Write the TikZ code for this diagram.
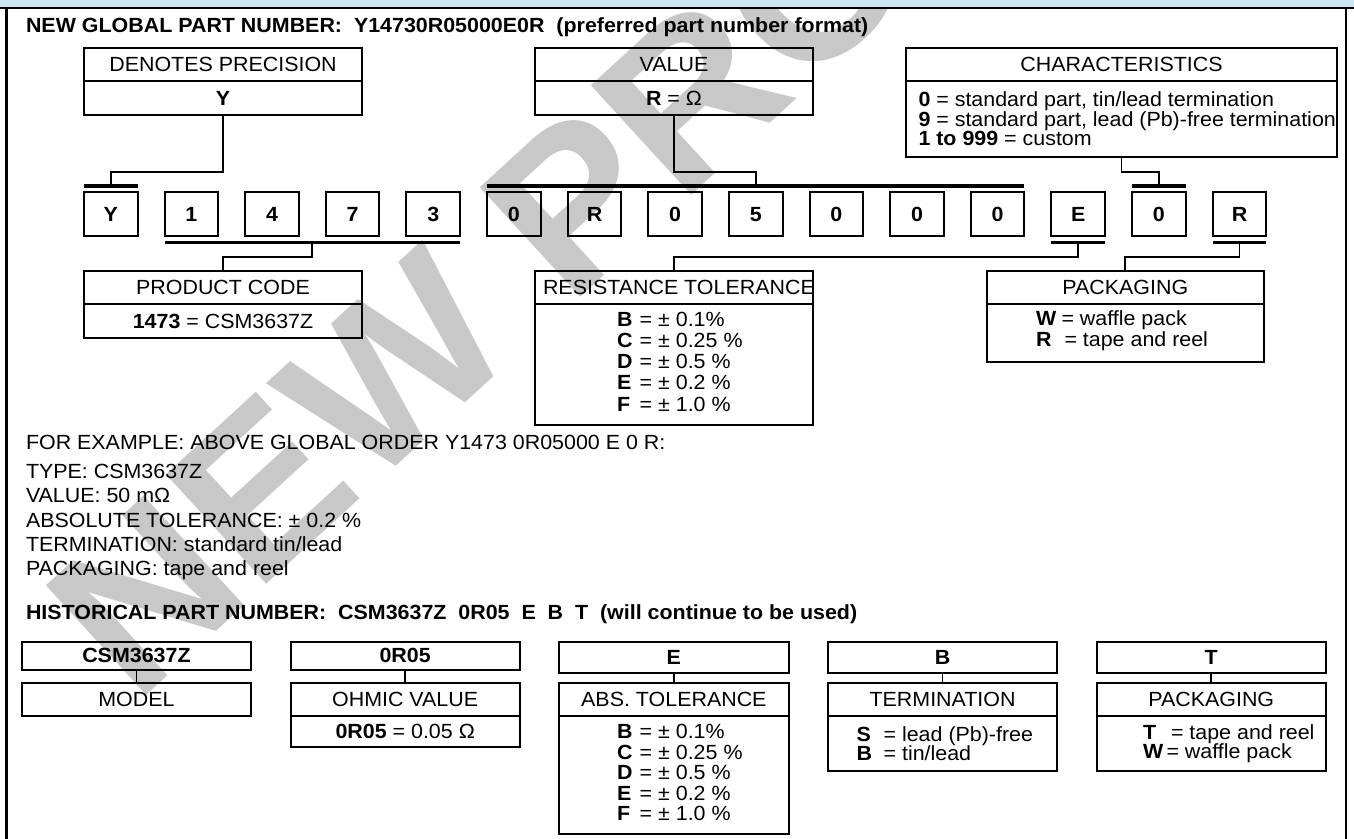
\documentclass[tikz,border=0pt]{standalone}
\usepackage{fontspec}
\setmainfont{Liberation Sans}[FakeStretch=1.045]
\usetikzlibrary{calc}
\definecolor{bandblue}{RGB}{205,229,243}
\definecolor{wmgray}{RGB}{200,200,200}
\newcommand\lettbox[2][22.7pt]{\makebox[#1][l]{\textbf{#2}}}
\begin{document}
\begin{tikzpicture}[x=1pt,y=-1pt,
  every node/.style={font=\fontsize{20.5}{24}\selectfont, inner sep=0pt, outer sep=0pt},
  cell/.style={draw, line width=2pt},
  lbl/.style={anchor=base west},
  boldtxt/.style={font=\fontsize{20.5}{24}\selectfont\bfseries},
  bar/.style={line width=3.5pt},
  conn/.style={line width=1.8pt},
  frame/.style={line width=2.2pt},
  wm/.style={font=\fontsize{216}{216}\selectfont\bfseries, text=wmgray}
]
\useasboundingbox (0,0) rectangle (1354,838);
\begin{scope}
  \clip (0,0) rectangle (1354,838);
  \node[wm, rotate=42.5, anchor=base west] (wmark) at (135,705) {NEW PRODUCT};
\end{scope}
% band and frame
\fill[bandblue] (0,0) rectangle (1354,6.8);
\draw[frame] (0,7.6) -- (1354,7.6);
\draw[frame] (6.5,7.6) -- (6.5,840);
\draw[frame] (1346,7.6) -- (1346,840);
% title
\node[lbl, boldtxt] (title) at (26,32.5) {NEW GLOBAL PART NUMBER:\ \ Y14730R05000E0R\ \ (preferred part number format)};
% top boxes
\node[cell, minimum width=277.2, minimum height=33.5] (dph) at (223,64.25) {DENOTES PRECISION};
\node[cell, minimum width=277.2, minimum height=34] (dpv) at (223,98) {\textbf{Y}};
\node[cell, minimum width=278, minimum height=33.5] (vah) at (674,64.25) {VALUE};
\node[cell, minimum width=278, minimum height=34] (vav) at (674,98) {\textbf{R} = Ω};
\node[cell, minimum width=431, minimum height=33.5] (chh) at (1121.5,64.25) {CHARACTERISTICS};
\node[cell, minimum width=431, minimum height=76.3] (chb) at (1121.5,119.15) {};
\node[lbl] (ch1) at (918.5,106.5) {\textbf{0} = standard part, tin/lead termination};
\node[lbl] (ch2) at (918.5,126) {\textbf{9} = standard part, lead (Pb)-free termination};
\node[lbl] (ch3) at (918.5,145.5) {\textbf{1 to 999} = custom};
% digit boxes
\foreach \c [count=\i from 0] in {Y,1,4,7,3,0,R,0,5,0,0,0,E,0,R} {
  \node[cell, boldtxt, minimum width=53.6, minimum height=43.6] (d\i) at ({84+80.62*\i+26.8},214.2) {\c};
}
% bars above
\draw[bar] ($(d0.north west)+(0,-6.4)$) -- ($(d0.north east)+(0,-6.4)$);
\draw[bar] ($(d5.north west)+(0,-6.4)$) -- ($(d11.north east)+(0,-6.4)$);
\draw[bar] ($(d13.north west)+(0,-6.4)$) -- ($(d13.north east)+(0,-6.4)$);
\coordinate (bY) at ($(d0.north)+(0,-6.4)$);
\coordinate (bV) at ($(d5.north west)!0.5!(d11.north east)+(0,-6.4)$);
\coordinate (bC) at ($(d13.north)+(0,-6.4)$);
% bars below
\draw[bar] ($(d1.south west)+(0,6.7)$) -- ($(d4.south east)+(0,6.7)$);
\draw[bar] ($(d12.south west)+(0,6.7)$) -- ($(d12.south east)+(0,6.7)$);
\draw[bar] ($(d14.south west)+(0,6.7)$) -- ($(d14.south east)+(0,6.7)$);
\coordinate (bP) at ($(d1.south west)!0.5!(d4.south east)+(0,6.7)$);
\coordinate (bE) at ($(d12.south)+(0,6.7)$);
\coordinate (bR) at ($(d14.south)+(0,6.7)$);
% lower boxes
\node[cell, minimum width=277.2, minimum height=33.4] (pch) at (223,287.7) {PRODUCT CODE};
\node[cell, minimum width=277.2, minimum height=33.6] (pcv) at (223,321.2) {\textbf{1473} = CSM3637Z};
\node[cell, minimum width=278, minimum height=33] (rth) at (674,287.5) {};
\node[anchor=west] (rtt) at (543,287.5) {RESISTANCE TOLERANCE};
\node[cell, minimum width=278, minimum height=121] (rtb) at (674,364.5) {};
\node[lbl] (rt1) at (617,326.3) {\lettbox{B}= ± 0.1\%};
\node[lbl] (rt2) at (617,347.5) {\lettbox{C}= ± 0.25 \%};
\node[lbl] (rt3) at (617,368.7) {\lettbox{D}= ± 0.5 \%};
\node[lbl] (rt4) at (617,389.9) {\lettbox{E}= ± 0.2 \%};
\node[lbl] (rt5) at (617,411.1) {\lettbox{F}= ± 1.0 \%};
\node[cell, minimum width=277, minimum height=33] (pkh) at (1125.3,287.5) {PACKAGING};
\node[cell, minimum width=277, minimum height=57.7] (pkb) at (1125.3,332.85) {};
\node[lbl] (pk1) at (1036,325.6) {\lettbox[25.5pt]{W}= waffle pack};
\node[lbl] (pk2) at (1036,346.6) {\lettbox[28.5pt]{R}= tape and reel};
% connectors
\coordinate (lvTop) at (0,171.7);
\coordinate (lvBot) at (0,256.7);
\draw[conn] (dpv.south) -- (dpv.south |- lvTop) -| (bY);
\draw[conn] (vav.south) -- (vav.south |- lvTop) -| (bV);
\draw[conn] (chb.south) -- (chb.south |- lvTop) -| (bC);
\draw[conn] (bP) -- (bP |- lvBot) -| (pch.north);
\draw[conn] (bE) -- (bE |- lvBot) -| (rth.north);
\draw[conn] (bR) -- (bR |- lvBot) -| (pkh.north);
% example text
\node[lbl] (ex) at (26,449.5) {FOR EXAMPLE: ABOVE GLOBAL ORDER Y1473 0R05000 E 0 R:};
\node[lbl] (ex1) at (26,478.5) {TYPE: CSM3637Z};
\node[lbl] (ex2) at (26,502.8) {VALUE: 50 mΩ};
\node[lbl] (ex3) at (26,527) {ABSOLUTE TOLERANCE: ± 0.2 \%};
\node[lbl] (ex4) at (26,551.3) {TERMINATION: standard tin/lead};
\node[lbl] (ex5) at (26,575.5) {PACKAGING: tape and reel};
\node[lbl, boldtxt] (hist) at (26,619.5) {HISTORICAL PART NUMBER:\ \ CSM3637Z\ \ 0R05\ \ E\ \ B\ \ T\ \ (will continue to be used)};
% historical boxes
\node[cell, boldtxt, minimum width=229.3, minimum height=27.5] (m1) at (136.45,655.75) {CSM3637Z};
\node[cell, minimum width=229.3, minimum height=33.3] (m2) at (136.45,699.35) {MODEL};
\node[cell, boldtxt, minimum width=229.3, minimum height=27.5] (o1) at (405.15,655.75) {0R05};
\node[cell, minimum width=229.3, minimum height=33.3] (o2) at (405.15,699.35) {OHMIC VALUE};
\node[cell, minimum width=229.3, minimum height=31] (o3) at (405.15,731.5) {\textbf{0R05} = 0.05 Ω};
\node[cell, boldtxt, minimum width=229.3, minimum height=30.8] (e1) at (673.85,657.4) {E};
\node[cell, minimum width=229.3, minimum height=33.3] (e2) at (673.85,699.35) {ABS. TOLERANCE};
\node[cell, minimum width=229.3, minimum height=118] (e3) at (673.85,775) {};
\node[lbl] (e31) at (617,738.8) {\lettbox{B}= ± 0.1\%};
\node[lbl] (e32) at (617,759.3) {\lettbox{C}= ± 0.25 \%};
\node[lbl] (e33) at (617,779.8) {\lettbox{D}= ± 0.5 \%};
\node[lbl] (e34) at (617,800.3) {\lettbox{E}= ± 0.2 \%};
\node[lbl] (e35) at (617,820.8) {\lettbox{F}= ± 1.0 \%};
\node[cell, boldtxt, minimum width=229.3, minimum height=30.8] (t1) at (942.55,657.4) {B};
\node[cell, minimum width=229.3, minimum height=33.3] (t2) at (942.55,699.35) {TERMINATION};
\node[cell, minimum width=229.3, minimum height=55] (t3) at (942.55,743.5) {};
\node[lbl] (t31) at (856.6,741.5) {\lettbox[27pt]{S}= lead (Pb)-free};
\node[lbl] (t32) at (856.6,760) {\lettbox[27pt]{B}= tin/lead};
\node[cell, boldtxt, minimum width=229.3, minimum height=30.8] (p1) at (1211.25,657.4) {T};
\node[cell, minimum width=229.3, minimum height=33.3] (p2) at (1211.25,699.35) {PACKAGING};
\node[cell, minimum width=229.3, minimum height=55] (p3) at (1211.25,743.5) {};
\node[lbl] (p31) at (1143,739.9) {\lettbox[28pt]{T}= tape and reel};
\node[lbl] (p32) at (1143,758.3) {\lettbox[23.5pt]{W}= waffle pack};
\draw[conn] (m1.south) -- (m2.north);
\draw[conn] (o1.south) -- (o2.north);
\draw[conn] (e1.south) -- (e2.north);
\draw[conn] (t1.south) -- (t2.north);
\draw[conn] (p1.south) -- (p2.north);
\end{tikzpicture}
\end{document}
